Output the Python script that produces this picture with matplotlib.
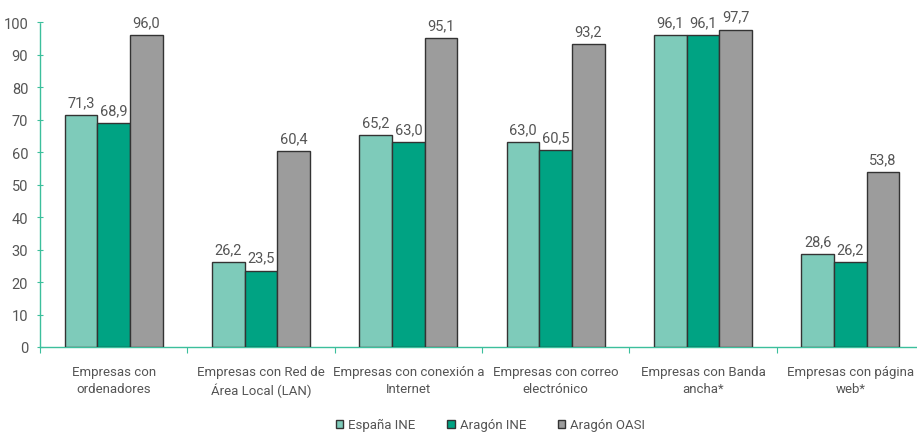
import matplotlib.pyplot as plt
import numpy as np

categorias = [
    "Empresas con\nordenadores",
    "Empresas con Red de\nÁrea Local (LAN)",
    "Empresas con conexión a\nInternet",
    "Empresas con correo\nelectrónico",
    "Empresas con Banda\nancha*",
    "Empresas con página\nweb*",
]
series = ["España INE", "Aragón INE", "Aragón OASI"]
espana_ine = [71.3, 26.2, 65.2, 63.0, 96.1, 28.6]
aragon_ine = [68.9, 23.5, 63.0, 60.5, 96.1, 26.2]
aragon_oasi = [96.0, 60.4, 95.1, 93.2, 97.7, 53.8]

colores = ["#7ecbba", "#00a383", "#9c9c9c"]
txt = "#555555"
teal_axis = "#3cbf9c"

plt.rcParams["font.family"] = ["Roboto", "DejaVu Sans"]

fig = plt.figure(figsize=(9.17, 4.35), dpi=100)
ax = fig.add_axes([40 / 917, 0.2, 884 / 917, 0.747])

x = np.arange(len(categorias))
w = 0.222
for i, (vals, col) in enumerate(zip([espana_ine, aragon_ine, aragon_oasi], colores)):
    pos = x + (i - 1) * w
    ax.bar(pos, vals, w, color=col, edgecolor="#333333", linewidth=1.0,
           label=series[i], zorder=3)
    for p, v in zip(pos, vals):
        ax.text(p, v + 1.8, f"{v:.1f}".replace(".", ","), ha="center", va="bottom",
                fontsize=10.5, color=txt)

ax.set_xlim(-0.5, len(categorias) - 0.5)
ax.set_ylim(0, 100)
ax.set_yticks(range(0, 101, 10))
ax.tick_params(axis="y", colors=teal_axis, labelcolor=txt, labelsize=10.5,
               direction="inout", length=5, pad=6)

ax.set_xticks(np.arange(len(categorias) + 1) - 0.5, minor=False)
ax.set_xticklabels([])
ax.tick_params(axis="x", colors=teal_axis, direction="out", length=4)
ax.set_xticks(x, minor=True)
ax.set_xticklabels(categorias, minor=True, fontsize=9.5, color=txt, linespacing=1.4)
ax.tick_params(axis="x", which="minor", length=0, pad=13)

for s in ["top", "right"]:
    ax.spines[s].set_visible(False)
for s in ["left", "bottom"]:
    ax.spines[s].set_color(teal_axis)
    ax.spines[s].set_linestyle((0, (1, 1)))
    ax.spines[s].set_linewidth(1.0)

leg = fig.legend(loc="lower center", bbox_to_anchor=(0.535, -0.012), ncol=3, frameon=False,
                 handlelength=0.55, handleheight=0.55, handletextpad=0.4, borderpad=0.1,
                 columnspacing=2.4, prop={"size": 9.5})
for t in leg.get_texts():
    t.set_color(txt)

fig.savefig("out.png", dpi=100)
